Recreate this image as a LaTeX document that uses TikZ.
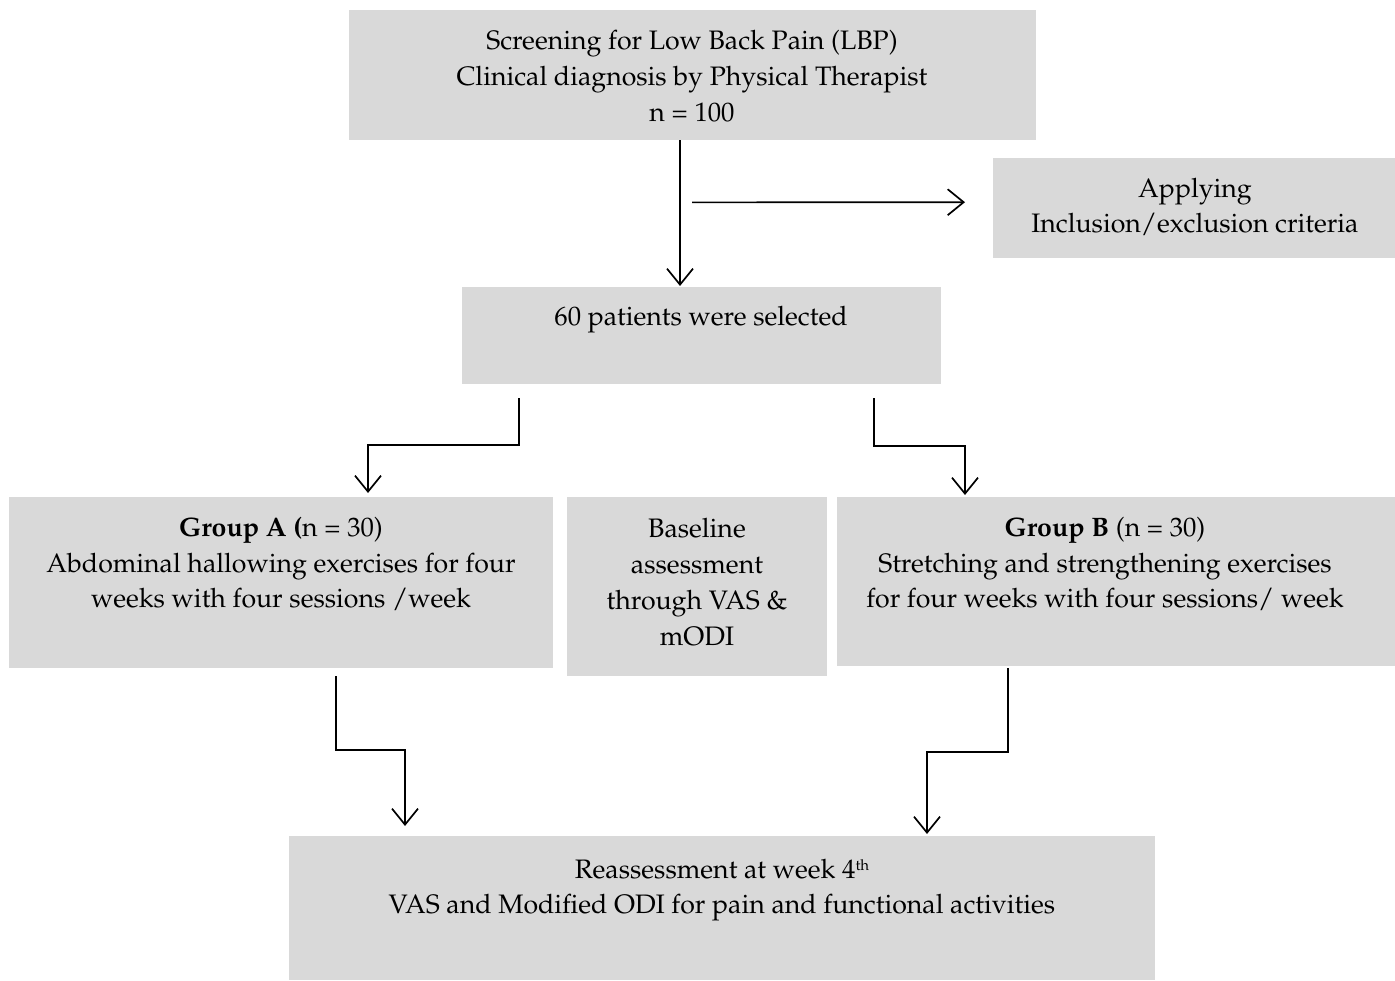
\documentclass[tikz,border=0pt]{standalone}
\usepackage[T1]{fontenc}
\renewcommand{\rmdefault}{ppl}
\usetikzlibrary{arrows.meta,calc}
\definecolor{boxgray}{HTML}{D9D9D9}
\tikzset{
 box/.style={fill=boxgray, draw=none, inner sep=0pt, anchor=north west},
 txt/.style={align=center, font=\fontsize{26.7}{35.8}\selectfont, inner sep=0pt, anchor=center},
 arr/.style={line width=1.7pt, -{Straight Barb[length=16pt,width=26pt,line width=1.7pt]}},
}
\begin{document}
\begin{tikzpicture}[x=1pt,y=-1pt]
\useasboundingbox (0,0) rectangle (1395,981);
\node[box, minimum width=687pt, minimum height=130pt] (scr) at (349,10) {};
\node[box, minimum width=402pt, minimum height=100pt] (app) at (993,158) {};
\node[box, minimum width=479pt, minimum height=97pt] (sel) at (462,287) {};
\node[box, minimum width=544pt, minimum height=171pt] (ga) at (9,497) {};
\node[box, minimum width=260pt, minimum height=179pt] (base) at (567,497) {};
\node[box, minimum width=558pt, minimum height=169pt] (gb) at (837,497) {};
\node[box, minimum width=866pt, minimum height=144pt] (re) at (289,836) {};

\node[txt] (scrT) at (692,76) {Screening for Low Back Pain (LBP)\\Clinical diagnosis by Physical Therapist\\n = 100};
\node[txt] (appT) at (1195,207) {Applying\\Inclusion/exclusion criteria};
\node[txt] (selT) at (701,320) {60 patients were selected};
\node[txt] (gaT) at (281,564) {\textbf{Group A (}n = 30)\\Abdominal hallowing exercises for four\\weeks with four sessions /week};
\node[txt] (baseT) at (697,582) {Baseline\\assessment\\through VAS \&\\mODI};
\node[txt] (gbT) at (1105,564) {\textbf{Group B} (n = 30)\\Stretching and strengthening exercises\\for four weeks with four sessions/ week};
\node[txt] (reT) at (722,890) {Reassessment at week 4\raisebox{8pt}{\fontsize{15}{15}\selectfont th}\\VAS and Modified ODI for pain and functional activities};

\draw[arr] ($(scr.south west)+(331,0)$) -- ($(sel.north west)+(218,-1)$);
\draw[arr] ($(scr.south west)+(343,62)$) -- ($(app.west)+(-28,-6)$);
\draw[arr] ($(sel.south west)+(57,14)$) |- ($(ga.north west)+(359,-52)$) -- ($(ga.north west)+(359,-4)$);
\draw[arr] ($(sel.south west)+(412,14)$) |- ($(gb.north west)+(128,-51)$) -- ($(gb.north west)+(128,-2)$);
\draw[arr] ($(ga.south west)+(327,8)$) |- ($(re.north west)+(116,-86)$) -- ($(re.north west)+(116,-10)$);
\draw[arr] ($(gb.south west)+(171,2)$) |- ($(re.north west)+(638,-84)$) -- ($(re.north west)+(638,-2)$);
\end{tikzpicture}
\end{document}
